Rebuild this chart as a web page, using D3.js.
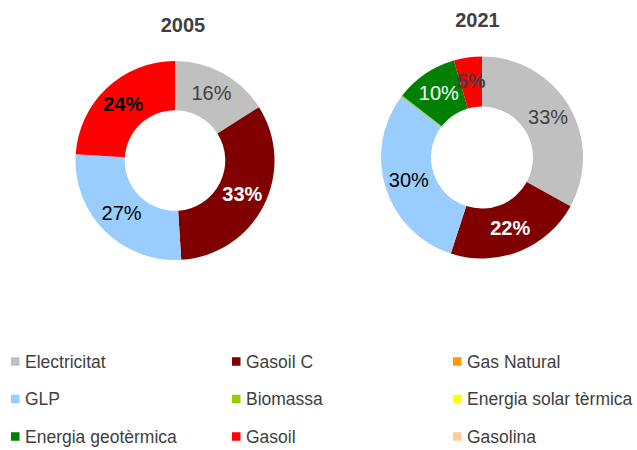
<!DOCTYPE html>
<html><head><meta charset="utf-8">
<script src="https://cdn.jsdelivr.net/npm/d3@7"></script>
<style>body{margin:0;background:#fff;}svg{display:block;font-family:"Liberation Sans",Arial,sans-serif;}</style>
</head><body>
<svg id="c" width="637" height="450"></svg>
<script>
const categories = ["Electricitat","Gasoil C","Gas Natural","GLP","Biomassa","Energia solar tèrmica","Energia geotèrmica","Gasoil","Gasolina"];
const colors = ["#C0C0C0","#800000","#FF9900","#99CCFF","#99CC00","#FFFF00","#008000","#FF0000","#FFCC99"];
const values2005 = [16, 33, 0, 27, 0, 0, 0, 24, 0];
const values2021 = [33, 22, 0, 30.3, 0.2, 0, 10, 4.5, 0];
const years = ["2005","2021"];
// label styles per category index
const labelColor2005 = {0:"#404040",1:"#ffffff",3:"#000000",7:"#000000"};
const labelBold2005 = {0:false,1:true,3:false,7:true};
const labelColor2021 = {0:"#404040",1:"#ffffff",3:"#000000",6:"#ffffff",7:"#404040"};
const labelBold2021 = {0:false,1:true,3:false,6:false,7:true};

const svg = d3.select("#c");
const color = d3.scaleOrdinal().domain(categories).range(colors);

function donut(values, cx, cy, r, title, titleX, titleY, lc, lb) {
  const g = svg.append("g").attr("transform", `translate(${cx},${cy})`);
  const data = categories.map((c,i)=>({cat:c, v:values[i], i}));
  const pie = d3.pie().sort(null).value(d=>d.v);
  const arc = d3.arc().innerRadius(r*0.505).outerRadius(r);
  const labelArc = d3.arc().innerRadius(r*0.52).outerRadius(r*1.0);
  const arcs = pie(data);
  g.selectAll("path").data(arcs.filter(d=>d.data.v>0)).join("path")
    .attr("d", arc).attr("fill", d=>color(d.data.cat));
  g.selectAll("text").data(arcs.filter(d=>d.data.v>=1)).join("text")
    .attr("transform", d=>`translate(${labelArc.centroid(d)})`)
    .attr("text-anchor","middle").attr("dy","0.3em")
    .attr("font-size","20px")
    .attr("font-weight", d=>lb[d.data.i] ? "bold" : "normal")
    .attr("fill", d=>lc[d.data.i])
    .text(d=>Math.round(d.data.v)+"%");
  svg.append("text").attr("x", titleX).attr("y", titleY)
    .attr("text-anchor","middle").attr("font-size","20px").attr("font-weight","bold")
    .attr("fill","#404040").text(title);
}

donut(values2005, 175, 160.5, 99.5, years[0], 183, 32, labelColor2005, labelBold2005);
donut(values2021, 482, 157.5, 101, years[1], 477.5, 27, labelColor2021, labelBold2021);

// legend
const colX = [11, 232, 453];
const rowY = [361.5, 399, 436.5];
const leg = svg.append("g");
categories.forEach((c,i)=>{
  const x = colX[i%3], y = rowY[Math.floor(i/3)];
  leg.append("rect").attr("x", x).attr("y", y-4.25).attr("width",8.5).attr("height",8.5).attr("fill", color(c));
  leg.append("text").attr("x", x+14).attr("y", y).attr("dy","0.36em")
    .attr("font-size","17.5px").attr("fill","#404040").text(c);
});
</script>
</body></html>
